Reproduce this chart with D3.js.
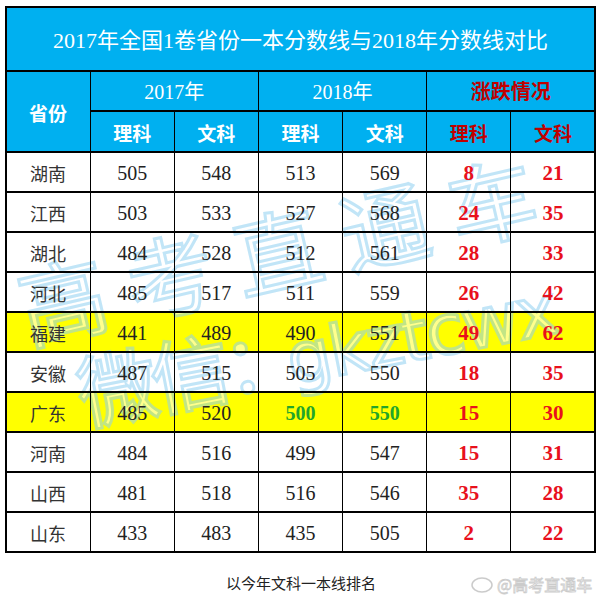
<!DOCTYPE html>
<html><head><meta charset="utf-8">
<script src="https://cdn.jsdelivr.net/npm/d3@7/dist/d3.min.js"></script>
<style>html,body{margin:0;padding:0;background:#fff;}svg{display:block;}</style>
</head><body>
<svg id="c" width="601" height="607"></svg>
<script>
const title = "2017年全国1卷省份一本分数线与2018年分数线对比";
const provinces = ["湖南","江西","湖北","河北","福建","安徽","广东","河南","山西","山东"];
const sci2017 = [505,503,484,485,441,487,485,484,481,433];
const art2017 = [548,533,528,517,489,515,520,516,518,483];
const sci2018 = [513,527,512,511,490,505,500,499,516,435];
const art2018 = [569,568,561,559,551,550,550,547,546,505];
const sciDiff = [8,24,28,26,49,18,15,15,35,2];
const artDiff = [21,35,33,42,62,35,30,31,28,22];
const highlighted = ["福建","广东"];
const greenRow = "广东";
const groups = ["2017年","2018年","涨跌情况"];
const subs = ["理科","文科"];
const footnote = "以今年文科一本线排名";
const watermark1 = "高考直通车";
const watermark2a = "微信：";
const watermark2b = "gkztcwx";
const weibo = "@高考直通车";

const cols = ["prov","s17","a17","s18","a18","sd","ad"];
const series = {s17:sci2017,a17:art2017,s18:sci2018,a18:art2018,sd:sciDiff,ad:artDiff};

const svg = d3.select("#c");
const x = d3.scaleBand().domain(cols).range([6,595]);
const y = d3.scaleBand().domain(provinces).range([152,552]);
const BLUE = "#00b0f0", HRED = "#c00000", RED = "#e8101c", GREEN = "#22a52a";
const CJK = "'Noto Sans CJK SC', sans-serif";
const SERIF = "'Liberation Serif','Times New Roman',serif";

// header background
svg.append("rect").attr("x",6).attr("y",7).attr("width",589).attr("height",145).attr("fill",BLUE);

// body rows
provinces.forEach((p,i)=>{
  svg.append("rect").attr("x",6).attr("y",y(p)).attr("width",589).attr("height",y.bandwidth())
    .attr("fill", highlighted.includes(p) ? "#ffff00" : "#fff");
});

// watermark
const wm = svg.append("g").attr("opacity",0.55);
const wm1 = wm.append("g").attr("transform","translate(28,344) rotate(-13)");
wm1.append("text").attr("x",0).attr("y",0)
  .attr("font-family",CJK).attr("font-size",88).attr("letter-spacing",22)
  .attr("fill","#ffffff").attr("stroke","#8fd0f2").attr("stroke-width",3)
  .text(watermark1);
const wm2 = wm.append("g").attr("transform","translate(84,425) rotate(-11)");
wm2.append("text").attr("x",0).attr("y",0)
  .attr("font-family",CJK).attr("font-size",80).attr("letter-spacing",-6)
  .attr("fill","#ffffff").attr("stroke","#8fd0f2").attr("stroke-width",3)
  .text(watermark2a);
wm2.append("text").attr("x",212).attr("y",0)
  .attr("font-family","'DejaVu Sans',sans-serif").attr("font-size",70).attr("letter-spacing",-2)
  .attr("fill","#ffffff").attr("stroke","#8fd0f2").attr("stroke-width",3)
  .text(watermark2b);

// grid lines
const g = svg.append("g").attr("stroke","#000").attr("stroke-width",1.2).attr("shape-rendering","crispEdges");
g.append("rect").attr("x",6).attr("y",7).attr("width",589).attr("height",545).attr("fill","none");
g.append("line").attr("x1",6).attr("x2",595).attr("y1",71).attr("y2",71);
g.append("line").attr("x1",x("s17")).attr("x2",595).attr("y1",111).attr("y2",111);
g.append("line").attr("x1",6).attr("x2",595).attr("y1",152).attr("y2",152);
provinces.slice(1).forEach(p=>{
  g.append("line").attr("x1",6).attr("x2",595).attr("y1",y(p)).attr("y2",y(p));
});
cols.slice(1).forEach((c,i)=>{
  const top = (i%2===0) ? 71 : 111;
  g.append("line").attr("x1",x(c)).attr("x2",x(c)).attr("y1",top).attr("y2",552);
});

// title
svg.append("text").attr("x",300.5).attr("y",40).attr("text-anchor","middle").attr("dominant-baseline","central")
  .attr("font-family",SERIF+","+CJK).attr("font-size",22).attr("fill","#fff").text(title);

// header texts
svg.append("text").attr("x",x("prov")+x.bandwidth()/2).attr("y",112).attr("text-anchor","middle").attr("dominant-baseline","central")
  .attr("font-family",CJK).attr("font-weight","bold").attr("font-size",19).attr("fill","#fff").text("省份");
groups.forEach((gname,i)=>{
  const c0 = cols[1+i*2];
  svg.append("text").attr("x",x(c0)+x.bandwidth()).attr("y",92).attr("text-anchor","middle").attr("dominant-baseline","central")
    .attr("font-family",SERIF+","+CJK).attr("font-weight", i===2?"bold":"normal").attr("font-size",20)
    .attr("fill", i===2?HRED:"#fff").text(gname);
  subs.forEach((s,j)=>{
    const c = cols[1+i*2+j];
    svg.append("text").attr("x",x(c)+x.bandwidth()/2).attr("y",132).attr("text-anchor","middle").attr("dominant-baseline","central")
      .attr("font-family",CJK).attr("font-weight","bold").attr("font-size",19)
      .attr("fill", i===2?HRED:"#fff").text(s);
  });
});

// body texts
provinces.forEach((p,i)=>{
  const cy = y(p)+y.bandwidth()/2+1;
  svg.append("text").attr("x",x("prov")+x.bandwidth()/2).attr("y",cy).attr("text-anchor","middle").attr("dominant-baseline","central")
    .attr("font-family",CJK).attr("font-size",18).attr("fill","#333").text(p);
  cols.slice(1).forEach(c=>{
    const isDiff = c==="sd"||c==="ad";
    const isGreen = p===greenRow && (c==="s18"||c==="a18");
    svg.append("text").attr("x",x(c)+x.bandwidth()/2).attr("y",cy).attr("text-anchor","middle").attr("dominant-baseline","central")
      .attr("font-family",SERIF).attr("font-size",isDiff?21:20)
      .attr("font-weight",(isDiff||isGreen)?"bold":"normal")
      .attr("fill", isDiff?RED:(isGreen?GREEN:"#222")).text(series[c][i]);
  });
});

// footnote
svg.append("text").attr("x",301).attr("y",582).attr("text-anchor","middle").attr("dominant-baseline","central")
  .attr("font-family",CJK).attr("font-size",15).attr("fill","#222").text(footnote);

// weibo mark
const wb = svg.append("g").attr("opacity",0.5);
wb.append("ellipse").attr("cx",482).attr("cy",585).attr("rx",10).attr("ry",7).attr("fill","none").attr("stroke","#999").attr("stroke-width",1.5);
wb.append("text").attr("x",497).attr("y",584).attr("dominant-baseline","central")
  .attr("font-family",CJK).attr("font-size",16).attr("fill","#fff").attr("stroke","#999").attr("stroke-width",0.8).text(weibo);
</script>
</body></html>
